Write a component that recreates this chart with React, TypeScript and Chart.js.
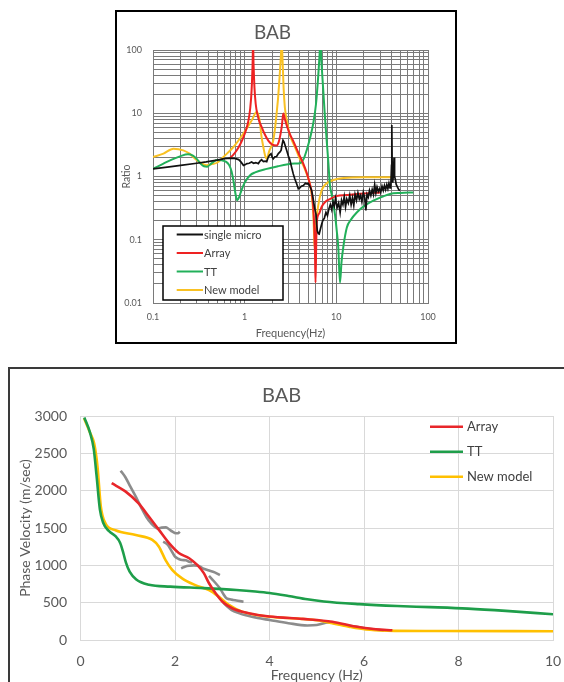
import React, { useEffect, useRef } from 'react';
import { Chart, registerables } from 'chart.js';

Chart.register(...registerables);

const FONT = 'Lato, "Open Sans", "Liberation Sans", sans-serif';

// ================= Top chart: spectral ratio =================
const topTitle = 'BAB';
const topXTickLabels = ['0.1', '1', '10', '100'];
const topYTickLabels = ['0.01', '0.1', '1', '10', '100'];

const microFreq = [
  0.1, 0.15, 0.2, 0.3, 0.38, 0.5, 0.6, 0.69, 0.78, 0.86, 0.91, 0.97, 1.02, 1.06, 1.12, 1.19, 1.25, 1.32, 1.41,
  1.47, 1.53, 1.6, 1.67, 1.74, 1.81, 1.88, 1.94, 2.0, 2.05, 2.14, 2.23, 2.33, 2.43, 2.5, 2.56, 2.62, 2.69, 2.78,
  2.87, 3.0, 3.12, 3.25, 3.39, 3.52, 3.69, 3.85, 4.0, 4.15, 4.36, 4.6, 4.8, 4.94, 5.15, 5.38, 5.55, 5.7, 5.85,
  6.0, 6.1, 6.2, 6.35, 6.5, 6.8, 7.1, 7.4, 7.7, 8.0, 8.3, 8.6, 8.9, 9.2, 9.5, 9.8, 10.2, 10.6, 11.0, 11.4, 11.8,
  12.2, 12.6, 13.0, 13.5, 14.0, 14.5, 15.0, 15.5, 16.0, 16.6, 17.2, 17.8, 18.4, 19.0, 19.7, 20.4, 21.0, 21.6,
  22.3, 23.0, 23.8, 24.6, 25.4, 26.2, 27.0, 27.8, 28.7, 29.6, 30.5, 31.5, 32.5, 33.5, 34.5, 35.5, 36.5, 37.5,
  38.5, 39.3, 40.0, 40.3, 40.7, 41.2, 42.0, 42.6, 43.2, 44.0, 45.0, 46.5, 48.0, 49.5,
];
const microRatio = [
  1.32, 1.42, 1.5, 1.62, 1.7, 1.82, 1.92, 1.95, 1.93, 1.85, 1.7, 1.5, 1.55, 1.6, 1.62, 1.7, 1.62, 1.66, 1.6,
  1.75, 1.84, 1.72, 1.75, 1.72, 2.03, 2.2, 2.29, 2.0, 1.9, 2.05, 2.07, 2.3, 2.45, 2.6, 3.2, 3.73, 3.5, 3.0,
  2.6, 2.1, 1.8, 1.4, 1.1, 0.92, 0.77, 0.64, 0.66, 0.7, 0.72, 0.78, 0.76, 0.78, 0.7, 0.6, 0.47, 0.37, 0.3,
  0.255, 0.18, 0.139, 0.125, 0.123, 0.16, 0.2, 0.22, 0.27, 0.24, 0.31, 0.36, 0.3, 0.4, 0.34, 0.45, 0.32, 0.38,
  0.27, 0.42, 0.36, 0.48, 0.33, 0.44, 0.38, 0.5, 0.36, 0.46, 0.35, 0.52, 0.42, 0.55, 0.44, 0.5, 0.4, 0.56,
  0.46, 0.29, 0.52, 0.47, 0.6, 0.5, 0.62, 0.52, 0.74, 0.55, 0.68, 0.58, 0.64, 0.56, 0.7, 0.6, 0.72, 0.62,
  0.74, 0.64, 0.78, 0.66, 0.7, 1.5, 6.5, 1.2, 0.8, 1.1, 2.0, 1.0, 0.9, 0.75, 0.68, 0.62, 0.6,
];

const arrayFreq = [
  0.69, 0.75, 0.82, 0.9, 0.97, 1.04, 1.1, 1.15, 1.19, 1.22, 1.235, 1.25, 1.28, 1.32, 1.38, 1.45, 1.53, 1.65,
  1.81, 2.0, 2.23, 2.35, 2.45, 2.55, 2.64, 2.75, 2.9, 3.1, 3.4, 3.7, 4.0, 4.36, 4.7, 5.1, 5.4, 5.6, 5.75, 5.85,
  5.93, 6.02, 6.1, 6.5, 6.9, 7.6, 8.5, 10, 13, 20, 30,
];
const arrayRatio = [
  1.95, 2.2, 2.6, 3.3, 4.2, 5.6, 7.7, 12, 23, 60, 130, 60, 25, 14, 9.5, 7.3, 6.1, 4.7,
  3.7, 3.2, 3.1, 3.5, 4.5, 6.5, 9.9, 8.0, 6.2, 4.75, 3.6, 2.7, 2.1, 1.6, 1.2, 0.8, 0.55, 0.33, 0.15, 0.06,
  0.021, 0.07, 0.18, 0.26, 0.33, 0.4, 0.44, 0.49, 0.51, 0.54, 0.56,
];

const ttFreq = [
  0.1, 0.13, 0.16, 0.2, 0.24, 0.27, 0.3, 0.33, 0.36, 0.39, 0.42, 0.46, 0.5, 0.56, 0.63, 0.68, 0.72, 0.76, 0.8,
  0.83, 0.87, 0.92, 1.0, 1.14, 1.3, 1.74, 2.3, 2.87, 3.5, 4.0, 4.4, 4.75, 5.2, 5.6, 6.0, 6.37, 6.55, 6.7, 6.9,
  7.2, 7.5, 7.85, 8.2, 8.5, 9.0, 9.67, 10.1, 10.5, 10.96, 11.4, 11.9, 13, 14.5, 16.7, 20, 25.3, 32, 38.5, 50, 69,
];
const ttRatio = [
  1.32, 1.6, 1.85, 2.1, 2.24, 2.15, 1.9, 1.6, 1.45, 1.43, 1.55, 1.72, 1.82, 1.8, 1.7, 1.5, 1.2, 0.8, 0.5,
  0.42, 0.47, 0.6, 0.8, 1.04, 1.16, 1.32, 1.45, 1.55, 1.6, 1.62, 1.9, 2.6, 4.2, 6.9, 14, 42, 80, 130, 60,
  23, 9, 3.7, 1.6, 0.75, 0.48, 0.25, 0.14, 0.076, 0.021, 0.045, 0.076, 0.155, 0.21, 0.27, 0.34, 0.415, 0.48, 0.53, 0.55, 0.56,
];

const newFreq = [
  0.1, 0.13, 0.167, 0.214, 0.25, 0.275, 0.31, 0.34, 0.385, 0.44, 0.5, 0.6, 0.75, 0.9, 1.05, 1.2, 1.35, 1.45,
  1.53, 1.6, 1.67, 1.74, 1.85, 2.05, 2.15, 2.23, 2.32, 2.39, 2.47, 2.54, 2.6, 2.66, 2.75, 2.87, 3.1, 3.4, 3.7,
  4.0, 4.4, 4.75, 5.1, 5.4, 5.6, 5.72, 5.8, 5.9, 6.05, 6.37, 6.9, 7.6, 9.3, 12, 20, 30, 40,
];
const newRatio = [
  2.03, 2.3, 2.75, 2.59, 2.3, 2.03, 1.75, 1.59, 1.5, 1.58, 1.65, 2.1, 2.9, 4.1, 5.7, 7.8, 10.5, 8.0,
  4.2, 2.9, 2.15, 1.9, 2.5, 3.7, 6.0, 9.9, 18, 33, 70, 130, 60, 25, 12, 8.0, 4.6, 3.3, 2.5,
  1.9, 1.45, 1.1, 0.8, 0.5, 0.26, 0.12, 0.075, 0.11, 0.2, 0.36, 0.6, 0.75, 0.88, 0.95, 0.97, 0.97, 0.97,
];

// ================= Bottom chart: dispersion =================
const botTitle = 'BAB';
const dispArrayFreq = [
  0.66, 0.95, 1.23, 1.45, 1.66, 1.87, 2.08, 2.3, 2.47, 2.61, 2.72, 2.86, 3.0, 3.21, 3.56, 4.0, 4.7, 5.33, 5.82, 6.25, 6.6,
];
const dispArrayVel = [
  2100, 1990, 1830, 1650, 1475, 1300, 1165, 1095, 1005, 895, 760, 625, 515, 425, 358, 315, 283, 245, 180, 145, 130,
];
const dispTTFreq = [
  0.08, 0.2, 0.28, 0.34, 0.41, 0.48, 0.6, 0.74, 0.84, 0.9, 0.96, 1.04, 1.18, 1.45, 1.9, 2.6, 3.3, 3.7, 4.0, 4.4,
  4.8, 5.15, 5.9, 6.7, 7.4, 8.2, 9.0, 10,
];
const dispTTVel = [
  2980, 2780, 2560, 2200, 1750, 1570, 1460, 1390, 1300, 1180, 1040, 915, 810, 740, 715, 695, 670, 650, 630, 590,
  545, 515, 480, 455, 440, 420, 390, 345,
];
const dispNewFreq = [
  0.075, 0.2, 0.29, 0.36, 0.43, 0.53, 0.74, 1.17, 1.52, 1.66, 1.8, 1.94, 2.15, 2.43, 2.72, 2.93, 3.14, 3.42, 4.0,
  4.64, 5.05, 5.33, 5.7, 6.04, 6.5, 7.5, 10,
];
const dispNewVel = [
  2970, 2780, 2630, 2320, 1790, 1560, 1470, 1405, 1340, 1250, 1070, 940, 825, 735, 670, 580, 470, 380, 312,
  285, 260, 225, 175, 140, 125, 120, 118,
];
const obs1Freq = [0.85, 0.95, 1.05, 1.17, 1.28, 1.39, 1.5, 1.63, 1.72, 1.81, 1.88, 1.95, 2.02, 2.07, 2.1];
const obs1Vel = [2267, 2180, 2060, 1919, 1780, 1651, 1560, 1496, 1505, 1509, 1480, 1450, 1430, 1429, 1450];
const obs2Freq = [1.75, 1.8, 1.85, 1.92, 2.0, 2.08, 2.15, 2.23, 2.3, 2.37];
const obs2Vel = [1317, 1300, 1272, 1200, 1116, 1085, 1071, 1068, 1049, 1040];
const obs3Freq = [2.13, 2.22, 2.31, 2.4, 2.49, 2.59, 2.7, 2.84, 2.95];
const obs3Vel = [960, 985, 995, 1000, 995, 960, 935, 906, 870];
const obs4Freq = [2.72, 2.82, 2.95, 3.03, 3.09, 3.16, 3.23, 3.33, 3.45];
const obs4Vel = [860, 790, 692, 610, 558, 545, 536, 525, 513];
const obs5Freq = [3.02, 3.1, 3.2, 3.35, 3.5, 3.75, 4.0, 4.4, 4.8, 5.0, 5.25, 5.5, 5.8, 6.1, 6.42];
const obs5Vel = [500, 450, 400, 360, 330, 295, 268, 225, 195, 200, 235, 210, 180, 150, 125];

// ================= helpers =================
const pts = (xs: number[], ys: number[]) => xs.map((x, i) => ({ x, y: ys[i] }));

const logGrid = (min: number, max: number) => {
  const out: number[] = [];
  for (let e = Math.floor(Math.log10(min)); e <= Math.ceil(Math.log10(max)); e++) {
    for (let m = 1; m <= 9; m++) {
      const v = Number((m * Math.pow(10, e)).toPrecision(6));
      if (v >= min * 0.9999 && v <= max * 1.0001) out.push(v);
    }
  }
  return out;
};

const labelFor = (v: number, labels: string[]) => {
  const hit = labels.find((l) => Math.abs(parseFloat(l) / v - 1) < 1e-6);
  return hit === undefined ? '' : hit;
};

type LegendCfg = {
  items: number[];
  x0: number; x1: number; tx: number; y0: number; dy: number;
  lw: number; size: number; color: string;
  box?: { x: number; y: number; w: number; h: number };
};

const makeLegend = (id: string, cfg: LegendCfg) => ({
  id,
  afterDraw(chart: any) {
    const { ctx, chartArea } = chart;
    const L = chartArea.left;
    const T = chartArea.top;
    ctx.save();
    if (cfg.box) {
      ctx.fillStyle = '#ffffff';
      ctx.fillRect(L + cfg.box.x, T + cfg.box.y, cfg.box.w, cfg.box.h);
      ctx.strokeStyle = '#000000';
      ctx.lineWidth = 1.5;
      ctx.strokeRect(L + cfg.box.x, T + cfg.box.y, cfg.box.w, cfg.box.h);
    }
    cfg.items.forEach((idx, i) => {
      const ds = chart.data.datasets[idx];
      const y = T + cfg.y0 + i * cfg.dy;
      ctx.strokeStyle = ds.borderColor;
      ctx.lineWidth = cfg.lw;
      ctx.beginPath();
      ctx.moveTo(L + cfg.x0, y);
      ctx.lineTo(L + cfg.x1, y);
      ctx.stroke();
      ctx.fillStyle = cfg.color;
      ctx.font = `${cfg.size}px ${FONT}`;
      ctx.textAlign = 'left';
      ctx.textBaseline = 'middle';
      ctx.fillText(ds.label, L + cfg.tx, y + 0.5);
    });
    ctx.restore();
  },
});

function TopChart() {
  const ref = useRef<HTMLCanvasElement>(null);
  useEffect(() => {
    if (!ref.current) return;
    const common = { pointRadius: 0, fill: false, borderWidth: 2 };
    const chart = new Chart(ref.current, {
      type: 'line',
      data: {
        datasets: [
          { ...common, label: 'single micro', data: pts(microFreq, microRatio), borderColor: '#111111', borderWidth: 1.7, tension: 0 },
          { ...common, label: 'Array', data: pts(arrayFreq, arrayRatio), borderColor: '#EE2222', cubicInterpolationMode: 'monotone' },
          { ...common, label: 'TT', data: pts(ttFreq, ttRatio), borderColor: '#22B05A', cubicInterpolationMode: 'monotone' },
          { ...common, label: 'New model', data: pts(newFreq, newRatio), borderColor: '#F9C123', cubicInterpolationMode: 'monotone' },
        ],
      } as any,
      plugins: [
        makeLegend('topLegend', {
          items: [0, 1, 2, 3],
          x0: 23.7, x1: 50, tx: 51, y0: 184.5, dy: 18.5,
          lw: 2, size: 11, color: '#404040',
          box: { x: 10, y: 176, w: 120, h: 74 },
        }),
      ],
      options: {
        responsive: false,
        animation: false,
        devicePixelRatio: 1,
        layout: { padding: { left: 0, right: 27, top: 0, bottom: 0 } },
        plugins: {
          legend: { display: false },
          tooltip: { enabled: false },
          title: {
            display: true,
            text: topTitle,
            color: '#595959',
            font: { family: FONT, size: 19, weight: 'normal' },
            padding: { top: 9.6, bottom: 5.6 },
          },
        },
        scales: {
          x: {
            type: 'logarithmic',
            min: 0.1,
            max: 100,
            afterBuildTicks: (s: any) => { s.ticks = logGrid(0.1, 100).map((v) => ({ value: v })); },
            afterFit: (s: any) => { s.height = 39; },
            grid: { color: '#7a7a7a', lineWidth: 1, drawTicks: false },
            border: { color: '#7a7a7a' },
            ticks: {
              autoSkip: false, maxRotation: 0, padding: 8.3, color: '#595959',
              font: { family: FONT, size: 9 },
              callback: (v: any) => labelFor(Number(v), topXTickLabels),
            },
            title: {
              display: true, text: 'Frequency(Hz)', color: '#595959',
              font: { family: FONT, size: 11 }, padding: { top: 0, bottom: 2.4 },
            },
          },
          y: {
            type: 'logarithmic',
            min: 0.01,
            max: 100,
            afterBuildTicks: (s: any) => { s.ticks = logGrid(0.01, 100).map((v) => ({ value: v })); },
            afterFit: (s: any) => { s.width = 36; },
            grid: { color: '#7a7a7a', lineWidth: 1, drawTicks: false },
            border: { color: '#7a7a7a' },
            ticks: {
              autoSkip: false, padding: 11, color: '#595959',
              font: { family: FONT, size: 9 },
              callback: (v: any) => labelFor(Number(v), topYTickLabels),
            },
            title: {
              display: true, text: 'Ratio', color: '#595959',
              font: { family: FONT, size: 10.5 }, padding: { top: 3.7, bottom: 0 },
            },
          },
        },
      } as any,
    });
    return () => chart.destroy();
  }, []);
  return (
    <canvas
      ref={ref}
      width={338}
      height={330}
      style={{ position: 'absolute', left: 117, top: 12, width: 338, height: 330 }}
    />
  );
}

function BottomChart() {
  const ref = useRef<HTMLCanvasElement>(null);
  useEffect(() => {
    if (!ref.current) return;
    const common = { pointRadius: 0, fill: false, borderWidth: 2.6, cubicInterpolationMode: 'monotone' };
    const gray = '#8C8C8C';
    const chart = new Chart(ref.current, {
      type: 'line',
      data: {
        datasets: [
          { ...common, label: 'Array', data: pts(dispArrayFreq, dispArrayVel), borderColor: '#E8262A' },
          { ...common, label: 'TT', data: pts(dispTTFreq, dispTTVel), borderColor: '#1E9E4A' },
          { ...common, label: 'New model', data: pts(dispNewFreq, dispNewVel), borderColor: '#FFC000' },
          { ...common, label: 'obs1', data: pts(obs1Freq, obs1Vel), borderColor: gray },
          { ...common, label: 'obs2', data: pts(obs2Freq, obs2Vel), borderColor: gray },
          { ...common, label: 'obs3', data: pts(obs3Freq, obs3Vel), borderColor: gray },
          { ...common, label: 'obs4', data: pts(obs4Freq, obs4Vel), borderColor: gray },
          { ...common, label: 'obs5', data: pts(obs5Freq, obs5Vel), borderColor: gray },
        ],
      } as any,
      plugins: [
        makeLegend('botLegend', {
          items: [0, 1, 2],
          x0: 349.5, x1: 382.5, tx: 386.5, y0: 10.7, dy: 25,
          lw: 2.6, size: 13, color: '#404040',
        }),
      ],
      options: {
        responsive: false,
        animation: false,
        devicePixelRatio: 1,
        layout: { padding: { left: 0, right: 29, top: 0, bottom: 0 } },
        plugins: {
          legend: { display: false },
          tooltip: { enabled: false },
          title: {
            display: true,
            text: botTitle,
            color: '#595959',
            font: { family: FONT, size: 20, weight: 'normal' },
            padding: { top: 13.5, bottom: 8.5 },
          },
        },
        scales: {
          x: {
            type: 'linear',
            min: 0,
            max: 10,
            afterFit: (s: any) => { s.height = 60; },
            grid: { color: '#d9d9d9', lineWidth: 1, drawTicks: false },
            border: { color: '#d9d9d9' },
            ticks: {
              stepSize: 2, maxRotation: 0, padding: 12.6, color: '#595959',
              font: { family: FONT, size: 14 },
              callback: (v: any) => String(v),
            },
            title: {
              display: true, text: 'Frequency (Hz)', color: '#595959',
              font: { family: FONT, size: 14 }, padding: { top: 0, bottom: 16.1 },
            },
          },
          y: {
            type: 'linear',
            min: 0,
            max: 3000,
            afterFit: (s: any) => { s.width = 70.5; },
            grid: { color: '#d9d9d9', lineWidth: 1, drawTicks: false },
            border: { color: '#d9d9d9' },
            ticks: {
              stepSize: 500, padding: 13.5, color: '#595959',
              font: { family: FONT, size: 14 },
              callback: (v: any) => String(v),
            },
            title: {
              display: true, text: 'Phase Velocity (m/sec)', color: '#595959',
              font: { family: FONT, size: 14 }, padding: { top: 6.6, bottom: 0 },
            },
          },
        },
      } as any,
    });
    return () => chart.destroy();
  }, []);
  return (
    <canvas
      ref={ref}
      width={572}
      height={330}
      style={{ position: 'absolute', left: 10, top: 370, width: 572, height: 330 }}
    />
  );
}

export default function App() {
  return (
    <div
      style={{
        position: 'fixed', left: 0, top: 0, width: 564, height: 682,
        overflow: 'hidden', background: '#ffffff',
      }}
    >
      <TopChart />
      <BottomChart />
      <div
        style={{
          position: 'absolute', left: 115, top: 10, width: 342, height: 334,
          border: '2px solid #000', boxSizing: 'border-box', pointerEvents: 'none',
        }}
      />
      <div
        style={{
          position: 'absolute', left: 8, top: 367, width: 600, height: 400,
          border: '2px solid #3a3a3a', boxSizing: 'border-box', pointerEvents: 'none',
        }}
      />
    </div>
  );
}
